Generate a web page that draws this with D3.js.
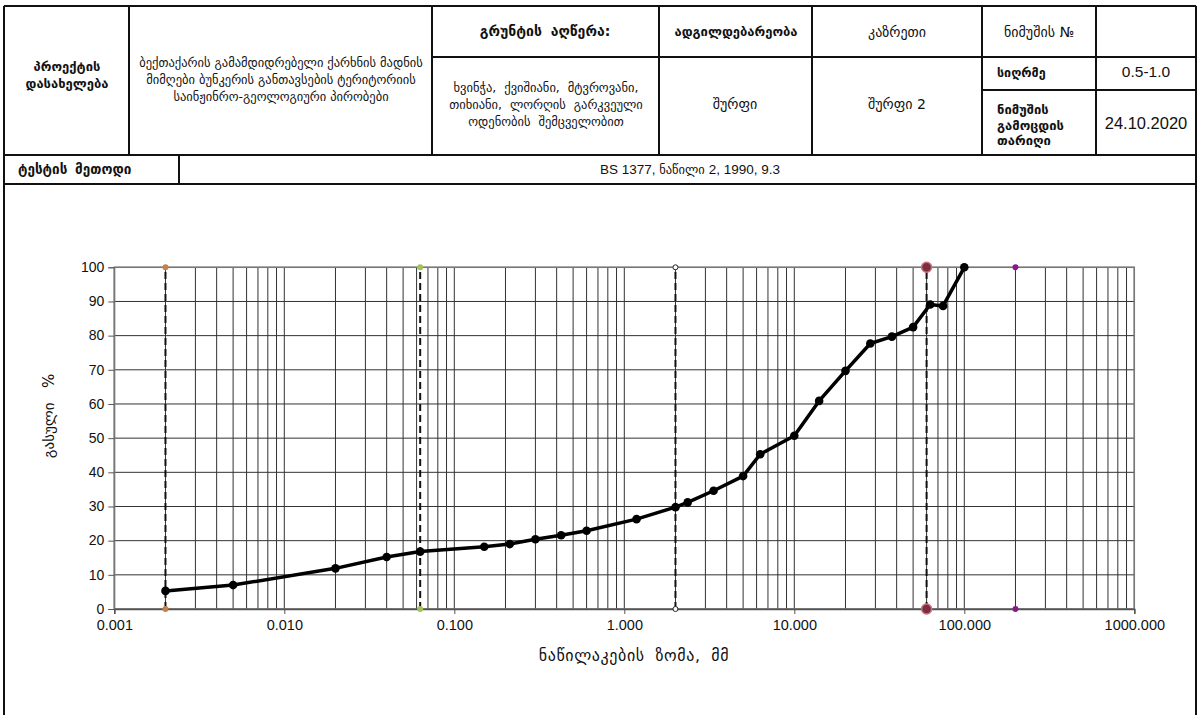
<!DOCTYPE html>
<html><head><meta charset="utf-8">
<script src="https://cdn.jsdelivr.net/npm/d3@7"></script>
<style>
body{margin:0;background:#fff;}
svg{display:block;}
.geo{font-family:"DejaVu Sans",sans-serif;}
.lat{font-family:"Liberation Sans",Arial,sans-serif;}
</style></head>
<body>
<div id="chart"></div>
<script>
// ---- data ----
const sizes   = [0.002,0.005,0.02,0.04,0.063,0.15,0.212,0.3,0.425,0.6,1.18,2,2.36,3.35,5,6.3,10,14,20,28,37.5,50,63,75,100];
const passing = [5.3,7.0,11.9,15.2,16.8,18.2,19.0,20.4,21.6,22.9,26.3,29.8,31.2,34.6,38.9,45.3,50.7,60.9,69.7,77.7,79.7,82.5,89.1,88.7,100];
const boundaryX      = [0.002,0.063,2,60,200];
const boundaryDashed = [true,true,true,true,false];
const boundaryColors = ["#c8804a","#a4c25a","#555555","#b8606e","#8a1a8a"];
const xTickValues = [0.001,0.01,0.1,1,10,100,1000];
const xTickLabels = ["0.001","0.010","0.100","1.000","10.000","100.000","1000.000"];
const yTickValues = [0,10,20,30,40,50,60,70,80,90,100];

const W=1198,H=715;
const svg=d3.select("#chart").append("svg").attr("width",W).attr("height",H);

// ---- header table ----
const tbl=svg.append("g").attr("stroke","#111").attr("stroke-width",2).attr("fill","none");
const L=4,R=1196,T=6;
function ln(x1,y1,x2,y2){tbl.append("line").attr("x1",x1).attr("y1",y1).attr("x2",x2).attr("y2",y2);}
ln(L,T,R,T); ln(L,T,L,H+5); ln(R,T,R,H+5);
ln(L,155,R,155); ln(L,184,R,184);
[129,432,659,812,982,1096].forEach(x=>ln(x,T,x,155));
ln(432,57,R,57); ln(982,90,R,90);
ln(179,155,179,184);

function txt(x,y,s,opt={}){
  const t=svg.append("text").attr("x",x).attr("y",y).attr("class",opt.cls||"geo")
    .attr("text-anchor",opt.anchor||"middle").attr("dominant-baseline","middle")
    .attr("font-size",opt.size||11).attr("font-weight",opt.bold?"bold":"normal")
    .attr("fill","#111").text(s);
  if(opt.ws) t.attr("word-spacing",opt.ws);
  if(opt.ls) t.attr("letter-spacing",opt.ls);
  return t;
}
txt(67,67,"პროექტის",{bold:true,size:13});
txt(67,84,"დასახელება",{bold:true,size:13});
txt(281,63,"ბექთაქარის გამამდიდრებელი ქარხნის მადნის",{size:12.5});
txt(281,80,"მიმღები ბუნკერის განთავსების ტერიტორიის",{size:12.5});
txt(281,97,"საინჟინრო-გეოლოგიური პირობები",{size:12.5});
txt(545,32,"გრუნტის აღწერა:",{bold:true,size:14,ws:4});
txt(736,32,"ადგილდებარეობა",{bold:true,size:13});
txt(897,33,"კაზრეთი",{size:14});
txt(1039,33,"ნიმუშის №",{size:14});
txt(546,88,"ხვინჭა, ქვიშიანი, მტვროვანი,",{size:12.5,ws:4});
txt(546,105,"თიხიანი, ლორღის გარკვეული",{size:12.5,ws:4});
txt(546,122,"ოდენობის შემცველობით",{size:12.5,ws:4});
txt(735,105,"შურფი",{size:14});
txt(897,105,"შურფი 2",{size:14});
txt(997,73,"სიღრმე",{bold:true,size:12.5,anchor:"start"});
txt(1146,73,"0.5-1.0",{cls:"lat",size:15.5});
txt(997,110,"ნიმუშის",{bold:true,size:13,anchor:"start"});
txt(997,126,"გამოცდის",{bold:true,size:13,anchor:"start"});
txt(997,141,"თარიღი",{bold:true,size:13,anchor:"start"});
txt(1146,125,"24.10.2020",{cls:"lat",size:16.5});
txt(18,170,"ტესტის მეთოდი",{bold:true,size:13.5,anchor:"start",ws:3});
const bs=svg.append("text").attr("x",690).attr("y",170).attr("text-anchor","middle")
  .attr("dominant-baseline","middle").attr("fill","#111");
bs.append("tspan").attr("class","lat").attr("font-size",13.5).text("BS 1377");
bs.append("tspan").attr("class","lat").attr("font-size",13.5).text(", ");
bs.append("tspan").attr("class","geo").attr("font-size",12.5).text("ნაწილი ");
bs.append("tspan").attr("class","lat").attr("font-size",13.5).text(" 2, 1990, 9.3");

// ---- chart ----
const x=d3.scaleLog().domain([0.001,1000]).range([114.3,1134.3]);
const y=d3.scaleLinear().domain([0,100]).range([609,267.3]);

const minor=[];
for(let e=-3;e<3;e++){for(let m=2;m<=9;m++){minor.push(m*Math.pow(10,e));}}
const g=svg.append("g");
g.selectAll(".vg").data(minor.concat(xTickValues)).enter().append("line")
  .attr("x1",d=>x(d)).attr("x2",d=>x(d)).attr("y1",y(0)).attr("y2",y(100))
  .attr("stroke","#333").attr("stroke-width",1);
g.selectAll(".hg").data(yTickValues).enter().append("line")
  .attr("x1",x(0.001)).attr("x2",x(1000)).attr("y1",d=>y(d)).attr("y2",d=>y(d))
  .attr("stroke","#333").attr("stroke-width",1);
g.append("rect").attr("x",x(0.001)).attr("y",y(100)).attr("width",x(1000)-x(0.001))
  .attr("height",y(0)-y(100)).attr("fill","none").attr("stroke","#777").attr("stroke-width",1.5);

// axes
const ya=svg.append("g").attr("transform",`translate(${x(0.001)},0)`)
  .call(d3.axisLeft(y).tickValues(yTickValues).tickSize(6).tickPadding(4).tickFormat(d3.format("d")));
ya.select(".domain").attr("stroke","#777");
ya.selectAll(".tick line").attr("stroke","#555");
ya.selectAll("text").attr("class","lat").attr("font-size",14).attr("fill","#111").attr("dy","0.3em");
const xa=svg.append("g").attr("transform",`translate(0,${y(0)})`)
  .call(d3.axisBottom(x).tickValues(xTickValues).tickSize(5).tickPadding(6).tickFormat((d,i)=>xTickLabels[i]));
xa.select(".domain").attr("stroke","#555").attr("stroke-width",1.5);
xa.selectAll(".tick line").attr("stroke","#555");
xa.selectAll("text").attr("class","lat").attr("font-size",14.5).attr("fill","#111");

// boundary lines
const bd=boundaryX.map((v,i)=>({v,dash:boundaryDashed[i],c:boundaryColors[i]}));
svg.selectAll(".bl").data(bd.filter(d=>d.dash)).enter().append("line")
  .attr("x1",d=>x(d.v)).attr("x2",d=>x(d.v)).attr("y1",y(0)).attr("y2",y(100))
  .attr("stroke","#111").attr("stroke-width",2).attr("stroke-dasharray","7,4");
const ends=[];
bd.forEach((d,i)=>{ends.push({d,i,val:0});ends.push({d,i,val:100});});
svg.selectAll(".be").data(ends).enter().append("circle")
  .attr("cx",e=>x(e.d.v)).attr("cy",e=>y(e.val))
  .attr("r",e=>e.i===3?5:(e.i===2?2.5:3))
  .attr("fill",e=>e.i===2?"#fff":(e.i===3?"#7a2f3e":e.d.c))
  .attr("stroke",e=>e.i===3?"#c77080":(e.i===2?"#222":"none"))
  .attr("stroke-width",e=>e.i===3?1.5:1);

// curve
const pts=sizes.map((s,i)=>({s,p:passing[i]}));
svg.append("path").datum(pts)
  .attr("d",d3.line().x(d=>x(d.s)).y(d=>y(d.p)))
  .attr("fill","none").attr("stroke","#000").attr("stroke-width",3.5).attr("stroke-linejoin","round");
svg.selectAll(".pt").data(pts).enter().append("circle")
  .attr("cx",d=>x(d.s)).attr("cy",d=>y(d.p)).attr("r",4.3).attr("fill","#000");

// axis titles
svg.append("text").attr("class","geo").attr("x",634).attr("y",656).attr("text-anchor","middle")
  .attr("dominant-baseline","middle").attr("font-size",16).attr("word-spacing",5).attr("letter-spacing",0.6)
  .attr("fill","#111").text("ნაწილაკების ზომა, მმ");
svg.append("text").attr("class","geo").attr("transform","translate(49,416) rotate(-90)")
  .attr("text-anchor","middle").attr("dominant-baseline","middle")
  .attr("font-size",15).attr("fill","#111").attr("xml:space","preserve").text("გასული   %");
</script>
</body></html>
